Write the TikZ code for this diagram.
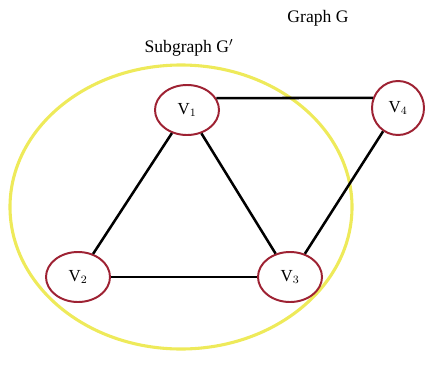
\documentclass[tikz,border=0pt]{standalone}
\usepackage{fontspec}
\setmainfont{Liberation Serif}
\usetikzlibrary{shapes.geometric, positioning}
\definecolor{vred}{HTML}{9E2233}
\definecolor{subyellow}{HTML}{EEEA5A}

\begin{document}
\begin{tikzpicture}[x=0.025cm, y=-0.025cm]
            \tikzstyle{vertex} = [draw=vred, ellipse, line width=1.4pt, fill=white, minimum width=1.6cm, minimum height=1.25cm, font=\fontsize{12}{14}\selectfont]
            \tikzstyle{edge} = [draw, line width=1.8pt, black]
            \tikzstyle{caption} = [font=\fontsize{12.5}{15}\selectfont]
            \useasboundingbox (0,0) rectangle (425,375);

            % Subgraph outline
            \draw[subyellow, line width=2.2pt] (181,207) ellipse [x radius=171, y radius=142];

            % Labels
            \node[caption] (lblG) at (318,18) {Graph G};
            \node[caption] (lblSub) at (189,48) {Subgraph G$'$};

            % Vertices
            \node[vertex] (v1) at (187,110) {V$_1$};
            \node[vertex, minimum width=1.3cm, minimum height=1.35cm] (v4) at (398,108) {V$_4$};
            \node[vertex] (v2) at (78,277) {V$_2$};
            \node[vertex] (v3) at (290,277) {V$_3$};

            % Edges
            \draw[edge] (v1.22) -- (v4.158);
            \draw[edge] (v1) -- (v2);
            \draw[edge] (v1) -- (v3);
            \draw[edge] (v2) -- (v3);
            \draw[edge] (v4) -- (v3);
        \end{tikzpicture}
\end{document}
